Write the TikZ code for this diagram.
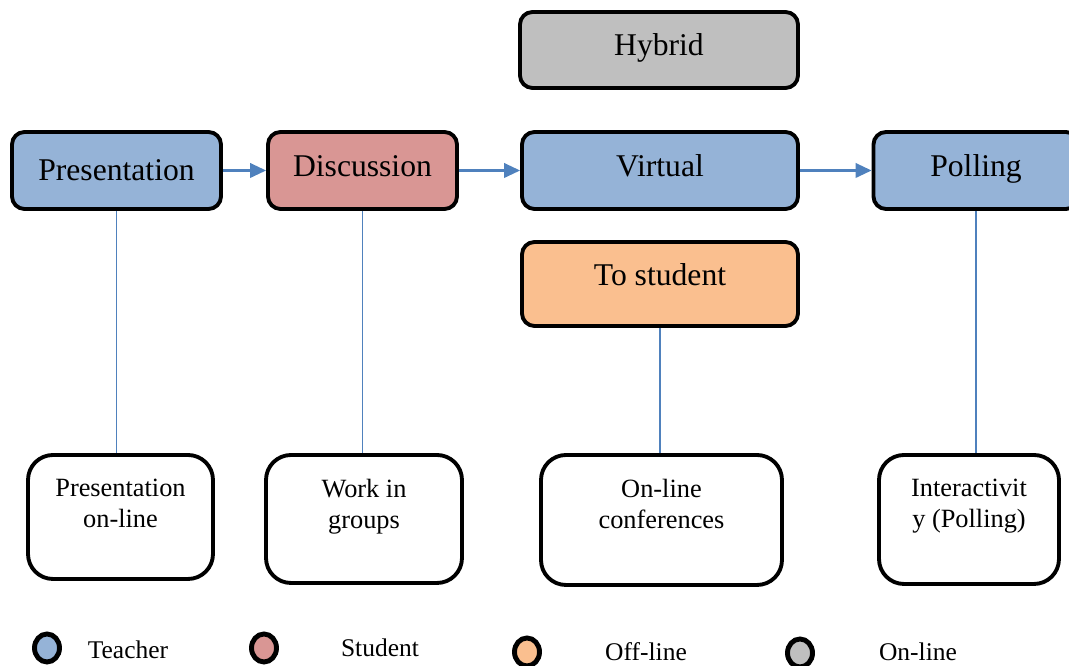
\documentclass[tikz,border=0pt]{standalone}
\usepackage{fontspec}
\setmainfont{Liberation Serif}
\usetikzlibrary{arrows.meta}
\definecolor{linkblue}{RGB}{79,129,189}
\definecolor{teacher}{RGB}{149,179,215}
\definecolor{student}{RGB}{217,150,148}
\definecolor{offline}{RGB}{250,191,143}
\definecolor{online}{RGB}{191,191,191}
\tikzset{
	box/.style={draw=black, line width=2.2pt, rounded corners=0.25cm, minimum height=1.54cm, font=\fontsize{18}{21}\selectfont},
	raised/.style={text height=0.45cm, text depth=0.22cm},
	subbox/.style={draw=black, line width=2.2pt, rounded corners=0.5cm},
	subtext/.style={anchor=north, align=center, font=\fontsize{15}{17.6}\selectfont},
	link/.style={linkblue, line width=1pt},
	arr/.style={linkblue, line width=1.3pt, -{Triangle[length=3.2mm, width=2.9mm]}},
	legtext/.style={font=\fontsize{14.5}{17}\selectfont},
	legdot/.style={line width=2.8pt}
}

\begin{document}
\begin{tikzpicture}

	\useasboundingbox (0,0) rectangle (21.38,13.32);

	\def\LegA{(0.94,0.36) ellipse (0.25 and 0.28)}
	\def\LegB{(5.28,0.36) ellipse (0.25 and 0.28)}
	\def\LegC{(10.54,0.28) ellipse (0.25 and 0.28)}
	\def\LegD{(16.00,0.26) ellipse (0.25 and 0.28)}

	% upper row
	\node[box, raised, fill=online, minimum width=5.56cm, minimum height=1.52cm] (hyb) at (13.18,12.32) {Hybrid};
	\node[box, fill=teacher, minimum width=4.18cm] (pres) at (2.33,9.91) {Presentation};
	\node[box, raised, fill=student, minimum width=3.78cm] (disc) at (7.25,9.91) {Discussion};
	\node[box, raised, fill=teacher, minimum width=5.52cm] (virt) at (13.20,9.91) {Virtual};
	\node[box, raised, fill=teacher, minimum width=4.10cm] (poll) at (19.52,9.91) {Polling};
	\node[box, fill=offline, minimum width=5.52cm, minimum height=1.68cm, text height=0.45cm, text depth=0.38cm] (tostud) at (13.20,7.64) {To student};

	\draw[arr] (pres.east) -- (disc.west);
	\draw[arr] (disc.east) -- (virt.west);
	\draw[arr] (virt.east) -- (poll.west);

	% lower row
	\node[subbox, minimum width=3.70cm, minimum height=2.48cm] (preson) at (2.41,2.98) {};
	\node[subbox, minimum width=3.92cm, minimum height=2.56cm] (groups) at (7.28,2.94) {};
	\node[subbox, minimum width=4.82cm, minimum height=2.60cm] (conf) at (13.23,2.92) {};
	\node[subbox, minimum width=3.60cm, minimum height=2.58cm] (inter) at (19.38,2.93) {};

	\node[subtext] (preson-t) at ([yshift=-0.4cm]preson.north) {Presentation\\on-line};
	\node[subtext] (groups-t) at ([yshift=-0.4cm]groups.north) {Work in\\groups};
	\node[subtext] (conf-t) at ([yshift=-0.4cm]conf.north) {On-line\\conferences};
	\node[subtext] (inter-t) at ([yshift=-0.4cm]inter.north) {Interactivit\\y (Polling)};

	\draw[link] (pres.south) -- (pres.south |- preson.north);
	\draw[link] (disc.south) -- (disc.south |- groups.north);
	\draw[link] (tostud.south) -- (tostud.south |- conf.north);
	\draw[link] (poll.south) -- (poll.south |- inter.north);

	% legend
	\draw[legdot, fill=teacher] \LegA;
	\draw[legdot, fill=student] \LegB;
	\draw[legdot, fill=offline] \LegC;
	\draw[legdot, fill=online] \LegD;
	\node[legtext] (leg-t) at (2.56,0.32) {Teacher};
	\node[legtext] (leg-s) at (7.60,0.36) {Student};
	\node[legtext] (leg-f) at (12.92,0.28) {Off-line};
	\node[legtext] (leg-o) at (18.36,0.28) {On-line};

\end{tikzpicture}
\end{document}
